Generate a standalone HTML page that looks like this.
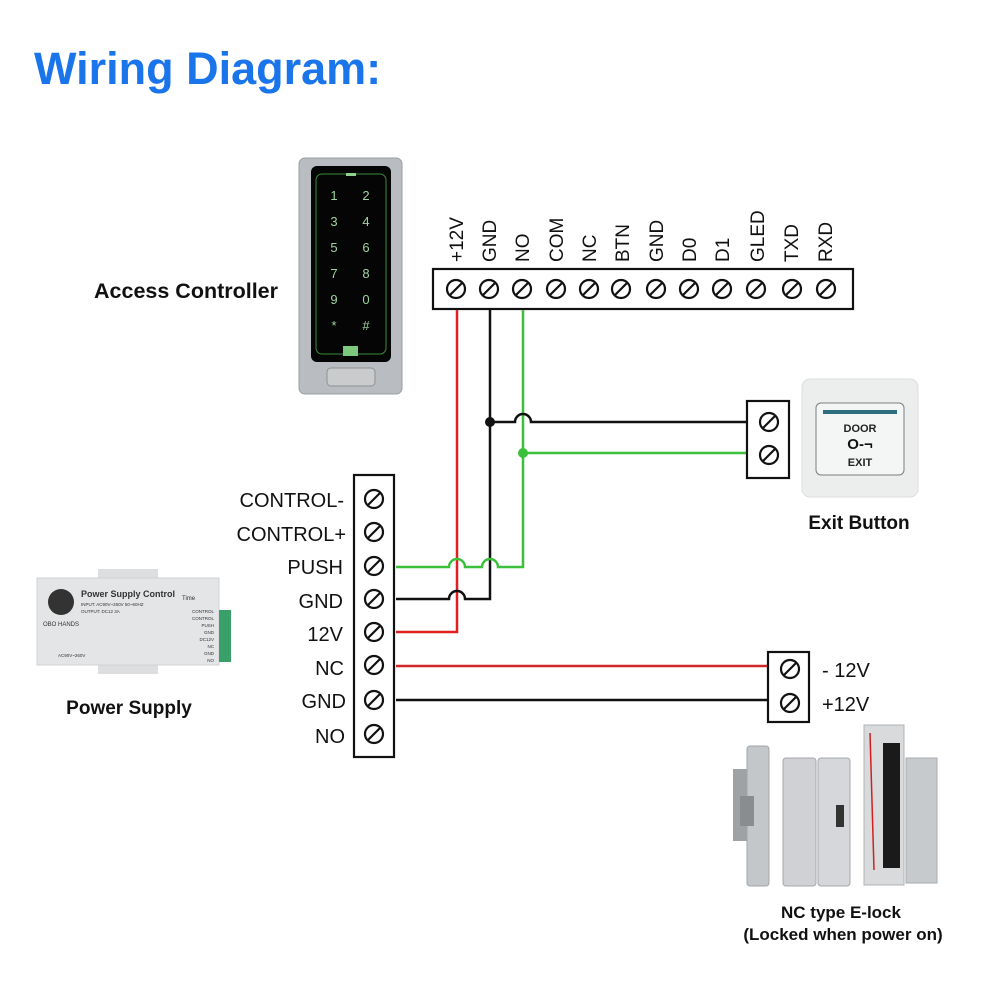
<!DOCTYPE html>
<html><head><meta charset="utf-8"><style>
html,body{margin:0;padding:0;background:#fff;width:1000px;height:1000px;overflow:hidden}
svg{display:block}
text{font-family:"Liberation Sans",Arial,sans-serif}
</style></head><body>
<svg width="1000" height="1000" viewBox="0 0 1000 1000" xmlns="http://www.w3.org/2000/svg">
<defs>
<g id="sc"><circle r="9" fill="none" stroke="#111" stroke-width="2.2"/><line x1="-6.5" y1="6.5" x2="6.5" y2="-6.5" stroke="#111" stroke-width="2.2"/></g>
</defs>
<text x="34" y="84" font-size="45" font-weight="bold" fill="#1a74ea">Wiring Diagram:</text>

<!-- Access controller keypad -->
<text x="94" y="298" font-size="21.5" font-weight="bold" fill="#111">Access Controller</text>
<rect x="299" y="158" width="103" height="236" rx="6" fill="#b9bcc0" stroke="#9a9da1"/>
<rect x="311" y="166" width="80" height="196" rx="6" fill="#050505"/>
<rect x="316" y="174" width="70" height="180" rx="6" fill="none" stroke="#3c8a3c" stroke-width="1"/>
<rect x="346" y="173" width="10" height="3" fill="#8fd08f"/>
<g fill="#9fd49f" font-size="13" text-anchor="middle">
<text x="334" y="200">1</text><text x="366" y="200">2</text>
<text x="334" y="226">3</text><text x="366" y="226">4</text>
<text x="334" y="252">5</text><text x="366" y="252">6</text>
<text x="334" y="278">7</text><text x="366" y="278">8</text>
<text x="334" y="304">9</text><text x="366" y="304">0</text>
<text x="334" y="330">*</text><text x="366" y="330">#</text>
</g>
<rect x="343" y="346" width="15" height="10" fill="#7cc87c"/>
<rect x="327" y="368" width="48" height="18" rx="4" fill="#c9cbcd" stroke="#8e9195"/>

<!-- Top terminal strip -->
<g font-size="19" fill="#111">
<text transform="translate(463,262) rotate(-90)">+12V</text>
<text transform="translate(496,262) rotate(-90)">GND</text>
<text transform="translate(529,262) rotate(-90)">NO</text>
<text transform="translate(563,262) rotate(-90)">COM</text>
<text transform="translate(596,262) rotate(-90)">NC</text>
<text transform="translate(629,262) rotate(-90)">BTN</text>
<text transform="translate(663,262) rotate(-90)">GND</text>
<text transform="translate(696,262) rotate(-90)">D0</text>
<text transform="translate(729,262) rotate(-90)">D1</text>
<text transform="translate(764,262) rotate(-90)">GLED</text>
<text transform="translate(798,262) rotate(-90)">TXD</text>
<text transform="translate(832,262) rotate(-90)">RXD</text>
</g>
<rect x="433" y="269" width="420" height="40" fill="#fff" stroke="#111" stroke-width="2.2"/>
<g>
<use href="#sc" x="456" y="289"/><use href="#sc" x="489" y="289"/><use href="#sc" x="522" y="289"/>
<use href="#sc" x="556" y="289"/><use href="#sc" x="589" y="289"/><use href="#sc" x="621" y="289"/>
<use href="#sc" x="656" y="289"/><use href="#sc" x="689" y="289"/><use href="#sc" x="722" y="289"/>
<use href="#sc" x="756" y="289"/><use href="#sc" x="792" y="289"/><use href="#sc" x="826" y="289"/>
</g>

<!-- Wires -->
<g fill="none" stroke-width="2.5">
<path d="M457 310 V632 H396" stroke="#e02020"/>
<path d="M490 310 V599 H465 a8 8 0 0 0 -16 0 H396" stroke="#111"/>
<path d="M523 310 V567 H498 a8 8 0 0 0 -16 0 H465 a8 8 0 0 0 -16 0 H396" stroke="#3cc03c"/>
<path d="M490 422 H515 a8 8 0 0 1 16 0 H748" stroke="#111"/>
<path d="M523 453 H748" stroke="#3cc03c"/>
<path d="M396 666 H768" stroke="#d02828"/>
<path d="M396 700 H768" stroke="#111"/>
</g>
<circle cx="490" cy="422" r="5" fill="#111"/>
<circle cx="523" cy="453" r="5" fill="#3cc03c"/>

<!-- Exit button terminal -->
<rect x="747" y="401" width="42" height="77" fill="#fff" stroke="#111" stroke-width="2.2"/>
<use href="#sc" x="769" y="422"/><use href="#sc" x="769" y="455"/>
<rect x="802" y="379" width="116" height="118" rx="8" fill="#eceeed" stroke="#dcdedd"/>
<rect x="816" y="403" width="88" height="72" rx="5" fill="#f4f6f5" stroke="#7a7d80"/>
<rect x="823" y="410" width="74" height="4" fill="#2c6e7e"/>
<text x="860" y="432" font-size="11" font-weight="bold" text-anchor="middle" fill="#222">DOOR</text>
<text x="860" y="449" font-size="15" font-weight="bold" text-anchor="middle" fill="#111">O-¬</text>
<text x="860" y="466" font-size="11" font-weight="bold" text-anchor="middle" fill="#222">EXIT</text>
<text x="859" y="529" font-size="19" font-weight="bold" text-anchor="middle" fill="#111">Exit Button</text>

<!-- Left terminal block -->
<rect x="354" y="475" width="40" height="282" fill="#fff" stroke="#111" stroke-width="2.2"/>
<use href="#sc" x="374" y="499"/><use href="#sc" x="374" y="532"/><use href="#sc" x="374" y="566"/>
<use href="#sc" x="374" y="599"/><use href="#sc" x="374" y="632"/><use href="#sc" x="374" y="665"/>
<use href="#sc" x="374" y="700"/><use href="#sc" x="374" y="734"/>
<g font-size="20" fill="#111" text-anchor="end">
<text x="344" y="507">CONTROL-</text>
<text x="346" y="541">CONTROL+</text>
<text x="343" y="574">PUSH</text>
<text x="343" y="608">GND</text>
<text x="343" y="641">12V</text>
<text x="344" y="675">NC</text>
<text x="346" y="708">GND</text>
<text x="345" y="743">NO</text>
</g>

<!-- Power supply -->
<rect x="98" y="569" width="60" height="10" fill="#dcdedf"/>
<rect x="98" y="664" width="60" height="10" fill="#dcdedf"/>
<rect x="37" y="578" width="182" height="87" fill="#e3e5e6" stroke="#cfd1d2"/>
<rect x="219" y="610" width="12" height="52" fill="#3aa06a"/>
<circle cx="61" cy="602" r="13" fill="#333"/>
<text x="61" y="626" font-size="6" text-anchor="middle" fill="#333">OBO HANDS</text>
<text x="81" y="597" font-size="9" font-weight="bold" fill="#333">Power Supply Control</text>
<text x="81" y="606" font-size="4.5" fill="#333">INPUT: AC90V~260V 50~60HZ</text>
<text x="81" y="613" font-size="4.5" fill="#333">OUTPUT: DC12 3A</text>
<text x="182" y="600" font-size="6" fill="#333">Time</text>
<g font-size="4.5" fill="#333" text-anchor="end">
<text x="214" y="613">CONTROL</text><text x="214" y="620">CONTROL</text><text x="214" y="627">PUSH</text>
<text x="214" y="634">GND</text><text x="214" y="641">DC12V</text><text x="214" y="648">NC</text>
<text x="214" y="655">GND</text><text x="214" y="662">NO</text>
</g>
<text x="58" y="657" font-size="4.5" fill="#333">AC90V~260V</text>
<text x="129" y="714" font-size="19" font-weight="bold" text-anchor="middle" fill="#111">Power Supply</text>

<!-- Lock terminal -->
<rect x="768" y="652" width="41" height="70" fill="#fff" stroke="#111" stroke-width="2.2"/>
<use href="#sc" x="790" y="669"/><use href="#sc" x="790" y="703"/>
<text x="822" y="677" font-size="20" fill="#111">- 12V</text>
<text x="822" y="711" font-size="20" fill="#111">+12V</text>

<!-- Locks -->
<rect x="733" y="769" width="14" height="72" fill="#9fa2a5"/>
<rect x="747" y="746" width="22" height="140" rx="3" fill="#c4c7ca" stroke="#a2a5a8"/>
<rect x="740" y="796" width="14" height="30" fill="#8a8d90"/>
<rect x="783" y="758" width="33" height="128" rx="3" fill="#cfd1d4" stroke="#a5a8ab"/>
<rect x="818" y="758" width="32" height="128" rx="3" fill="#d5d7da" stroke="#a5a8ab"/>
<rect x="836" y="805" width="8" height="22" fill="#333"/>
<rect x="864" y="725" width="40" height="160" fill="#d8dadc" stroke="#b0b3b6"/>
<rect x="883" y="743" width="17" height="125" fill="#1a1a1a"/>
<line x1="870" y1="733" x2="874" y2="870" stroke="#d02020" stroke-width="1.5"/>
<rect x="906" y="758" width="31" height="125" fill="#c7cacd" stroke="#a8abae"/>
<text x="841" y="918" font-size="17" font-weight="bold" text-anchor="middle" fill="#111">NC type E-lock</text>
<text x="843" y="940" font-size="17" font-weight="bold" text-anchor="middle" fill="#111">(Locked when power on)</text>
</svg>
</body></html>
